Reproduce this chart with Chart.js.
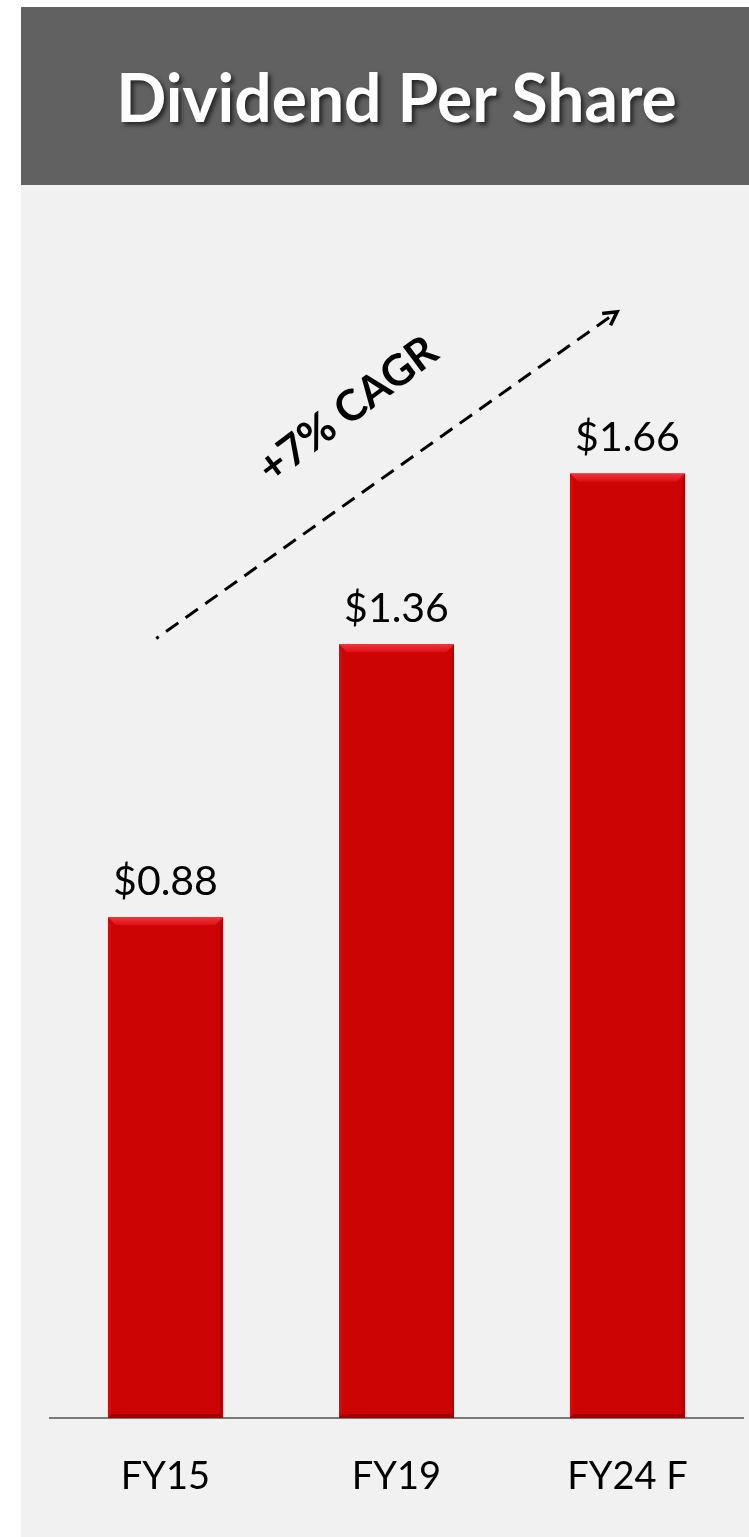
<!DOCTYPE html>
<html>
<head>
<meta charset="utf-8">
<script src="https://cdn.jsdelivr.net/npm/chart.js@4.4.1/dist/chart.umd.min.js"></script>
<style>
  html, body { margin: 0; padding: 0; background: #fff; }
  body { width: 749px; height: 1537px; position: relative; overflow: hidden; }
  .header {
    position: absolute; left: 21px; top: 7px; width: 728px; height: 178px;
    background: #616161;
  }
  .header h1 {
    margin: 0; position: absolute; left: 23px; right: 0; top: 50%;
    transform: translateY(-50%);
    text-align: center; color: #fff;
    font: bold 66px Lato, sans-serif;
    text-shadow: 3px 3px 4px rgba(0, 0, 0, 0.6);
  }
  .panel {
    position: absolute; left: 21px; top: 185px; width: 728px; bottom: 0;
    background: #f0f1f0;
  }
  #chart { position: absolute; left: 0; top: 0; }
</style>
</head>
<body>
<div class="header"><h1>Dividend Per Share</h1></div>
<div class="panel"></div>
<canvas id="chart" width="749" height="1537"></canvas>
<script>
// Дані
const categories = ['FY15', 'FY19', 'FY24 F'];
const dividends = [0.88, 1.36, 1.66];
const valueLabels = ['$0.88', '$1.36', '$1.66'];
const cagrText = '+7% CAGR';
// стрілка CAGR у координатах даних [індекс категорії, значення]
const arrowFrom = [-0.04, 1.37];
const arrowTo = [1.955, 1.944];
const cagrLabelAt = [0.79, 1.772];

// Підписи значень над стовпцями
const valueLabelPlugin = {
  id: 'valueLabels',
  afterDatasetsDraw(chart) {
    const ctx = chart.ctx;
    const meta = chart.getDatasetMeta(0);
    ctx.save();
    ctx.fillStyle = '#000';
    ctx.font = '41px Lato, sans-serif';
    ctx.textAlign = 'center';
    ctx.textBaseline = 'alphabetic';
    meta.data.forEach((bar, i) => {
      ctx.fillText(valueLabels[i], bar.x, bar.y - 22);
    });
    ctx.restore();
  }
};

// Об'ємний ефект стовпців (фаска)
const bevelPlugin = {
  id: 'bevel',
  afterDatasetsDraw(chart) {
    const ctx = chart.ctx;
    const meta = chart.getDatasetMeta(0);
    const b = 8;
    ctx.save();
    meta.data.forEach(bar => {
      const l = bar.x - bar.width / 2;
      const r = bar.x + bar.width / 2;
      const t = bar.y;
      const btm = bar.base;

      const grad = ctx.createLinearGradient(0, t, 0, t + b);
      grad.addColorStop(0, '#f0343a');
      grad.addColorStop(1, '#dc1016');
      ctx.fillStyle = grad;
      ctx.beginPath();
      ctx.moveTo(l, t); ctx.lineTo(r, t); ctx.lineTo(r - b, t + b); ctx.lineTo(l + b, t + b);
      ctx.closePath(); ctx.fill();

      ctx.fillStyle = '#d80a0e';
      ctx.beginPath();
      ctx.moveTo(l, t); ctx.lineTo(l + 3, t + b); ctx.lineTo(l + 3, btm - 3); ctx.lineTo(l, btm);
      ctx.closePath(); ctx.fill();

      ctx.fillStyle = '#b40000';
      ctx.beginPath();
      ctx.moveTo(r, t); ctx.lineTo(r - 3, t + b); ctx.lineTo(r - 3, btm - 3); ctx.lineTo(r, btm);
      ctx.closePath(); ctx.fill();

      ctx.fillStyle = '#a00000';
      ctx.beginPath();
      ctx.moveTo(l, btm); ctx.lineTo(r, btm); ctx.lineTo(r - 3, btm - 4); ctx.lineTo(l + 3, btm - 4);
      ctx.closePath(); ctx.fill();
    });
    ctx.restore();
  }
};

// Пунктирна стрілка та підпис CAGR
const cagrPlugin = {
  id: 'cagr',
  afterDraw(chart) {
    const ctx = chart.ctx;
    const xs = chart.scales.x;
    const ys = chart.scales.y;
    const x1 = xs.getPixelForValue(arrowFrom[0]);
    const y1 = ys.getPixelForValue(arrowFrom[1]);
    const x2 = xs.getPixelForValue(arrowTo[0]);
    const y2 = ys.getPixelForValue(arrowTo[1]);
    const ang = Math.atan2(y2 - y1, x2 - x1);
    const cos = Math.cos(ang);
    const sin = Math.sin(ang);

    ctx.save();
    ctx.strokeStyle = '#000';
    ctx.lineWidth = 3;
    // крапка на початку
    ctx.beginPath();
    ctx.moveTo(x1, y1);
    ctx.lineTo(x1 + 3 * cos, y1 + 3 * sin);
    ctx.stroke();
    // пунктир
    ctx.setLineDash([15, 9]);
    ctx.beginPath();
    ctx.moveTo(x1 + 12 * cos, y1 + 12 * sin);
    ctx.lineTo(x2, y2);
    ctx.stroke();

    ctx.setLineDash([]);
    ctx.lineWidth = 3.5;
    const h = 15;
    ctx.beginPath();
    ctx.moveTo(x2 - h * Math.cos(ang - 0.5), y2 - h * Math.sin(ang - 0.5));
    ctx.lineTo(x2, y2);
    ctx.lineTo(x2 - h * Math.cos(ang + 0.5), y2 - h * Math.sin(ang + 0.5));
    ctx.stroke();

    const tx = xs.getPixelForValue(cagrLabelAt[0]);
    const ty = ys.getPixelForValue(cagrLabelAt[1]);
    ctx.translate(tx, ty);
    ctx.rotate(-37 * Math.PI / 180);
    ctx.fillStyle = '#000';
    ctx.font = 'bold 43px Lato, sans-serif';
    ctx.textAlign = 'center';
    ctx.textBaseline = 'middle';
    ctx.fillText(cagrText, 0, 0);
    ctx.restore();
  }
};

new Chart(document.getElementById('chart'), {
  type: 'bar',
  data: {
    labels: categories,
    datasets: [{
      data: dividends,
      backgroundColor: '#cc0404',
      borderWidth: 0,
      categoryPercentage: 1,
      barPercentage: 0.498
    }]
  },
  options: {
    responsive: false,
    devicePixelRatio: 1,
    animation: false,
    layout: { padding: { left: 50, right: 6, top: 280, bottom: 0 } },
    plugins: {
      legend: { display: false },
      tooltip: { enabled: false }
    },
    scales: {
      x: {
        grid: { display: false },
        border: { display: true, color: '#7a7a7a', width: 2 },
        ticks: {
          color: '#000',
          font: { family: 'Lato, sans-serif', size: 38 },
          padding: 28
        },
        afterFit(scale) { scale.height = 119; }
      },
      y: {
        display: false,
        min: 0,
        max: 2
      }
    }
  },
  plugins: [valueLabelPlugin, bevelPlugin, cagrPlugin]
});
</script>
</body>
</html>
